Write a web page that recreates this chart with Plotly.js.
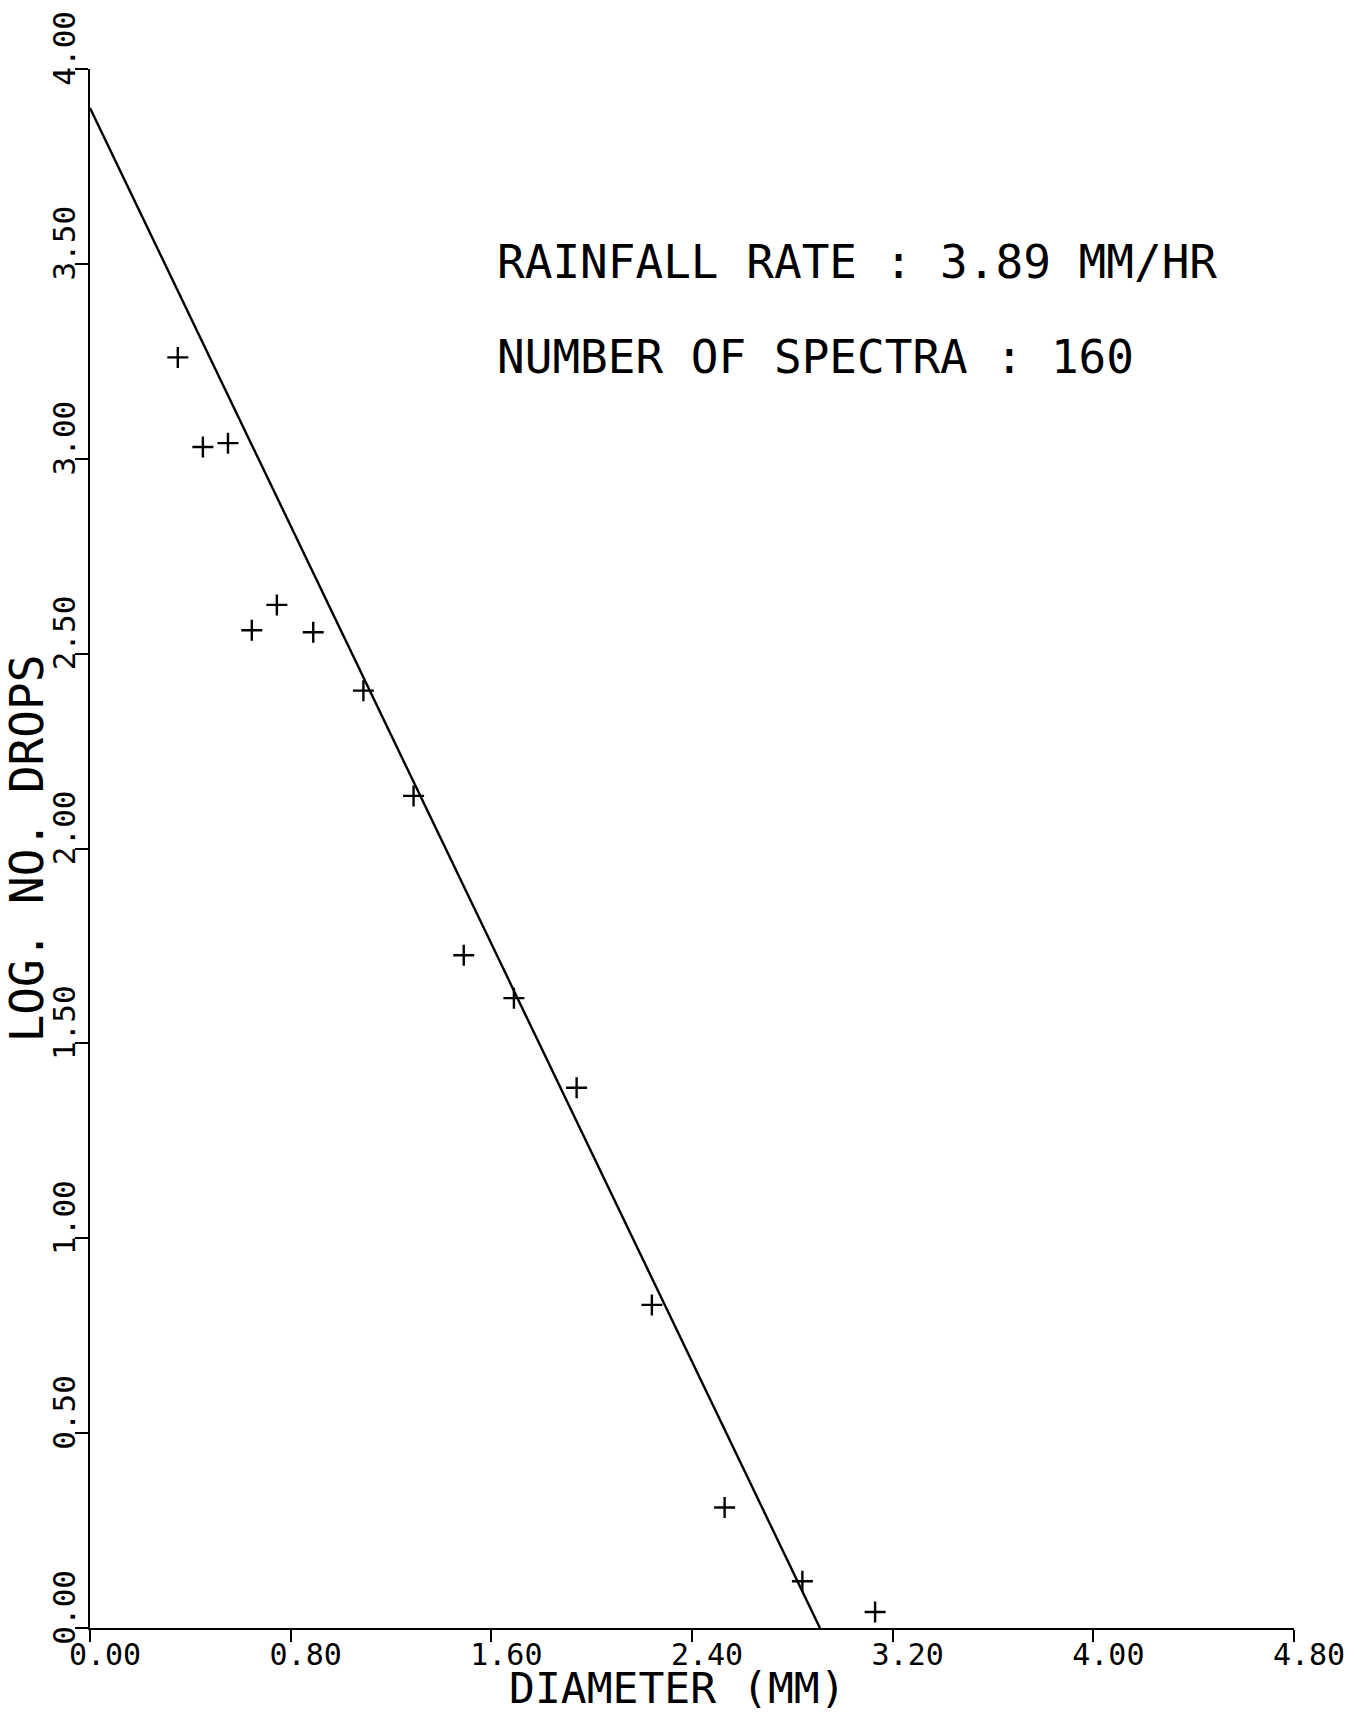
<!DOCTYPE html>
<html>
<head>
<meta charset="utf-8">
<script src="https://cdn.plot.ly/plotly-3.0.1.min.js"></script>
<style>html,body{margin:0;padding:0;background:#fff;}#chart{width:1355px;height:1716px;}</style>
</head>
<body>
<div id="chart"></div>
<script>
// Measured drop spectrum (diameter in mm, log10 of number of drops)
const diameter = [0.35, 0.45, 0.55, 0.645, 0.745, 0.89, 1.09, 1.29, 1.49, 1.69, 1.94, 2.24, 2.53, 2.84, 3.13];
const logDrops = [3.26, 3.03, 3.04, 2.56, 2.625, 2.555, 2.405, 2.135, 1.726, 1.616, 1.386, 0.829, 0.309, 0.12, 0.041];
// Fitted exponential distribution line (end points)
const fitDiameter = [0.0, 2.91];
const fitLogDrops = [3.90, 0.0];
// Axis ticks
const xTicks = [0, 0.8, 1.6, 2.4, 3.2, 4.0, 4.8];
const xTickLabels = ['0.00', '0.80', '1.60', '2.40', '3.20', '4.00', '4.80'];
const yTicks = [0, 0.5, 1.0, 1.5, 2.0, 2.5, 3.0, 3.5, 4.0];
const yTickLabels = ['0.00', '0.50', '1.00', '1.50', '2.00', '2.50', '3.00', '3.50', '4.00'];
// Text
const xTitle = 'DIAMETER (MM)';
const yTitle = 'LOG. NO. DROPS';
const infoLines = ['RAINFALL RATE : 3.89 MM/HR', 'NUMBER OF SPECTRA : 160'];

const FONT = 'DejaVu Sans Mono, monospace';

const traces = [
  {
    x: fitDiameter, y: fitLogDrops, type: 'scatter', mode: 'lines',
    line: {color: '#000', width: 2.4}, hoverinfo: 'skip', showlegend: false
  },
  {
    x: diameter, y: logDrops, type: 'scatter', mode: 'markers',
    marker: {symbol: 'cross-thin-open', size: 15, color: '#000', line: {color: '#000', width: 2.4}},
    showlegend: false
  }
];

const layout = {
  width: 1355, height: 1716,
  paper_bgcolor: '#fff', plot_bgcolor: '#fff',
  margin: {l: 90, r: 61, t: 69, b: 88},
  font: {family: FONT, color: '#000'},
  showlegend: false,
  xaxis: {
    range: [0, 4.8], tickvals: xTicks, ticktext: xTickLabels,
    showgrid: false, zeroline: false, showline: true, linecolor: '#000', linewidth: 2,
    ticks: 'outside', ticklen: 12, tickwidth: 2, tickcolor: '#000',
    tickfont: {family: FONT, size: 30, color: '#000'},
    ticklabelshift: 15,
    ticklabelstandoff: -13,
    fixedrange: true
  },
  yaxis: {
    range: [0, 4], tickvals: yTicks, ticktext: yTickLabels,
    showgrid: false, zeroline: false, showline: true, linecolor: '#000', linewidth: 2,
    ticks: 'outside', ticklen: 13, tickwidth: 2, tickcolor: '#000',
    tickangle: -90,
    tickfont: {family: FONT, size: 31, color: '#000'},
    ticklabelshift: -16,
    ticklabelstandoff: -12,
    title: {text: yTitle, font: {family: FONT, size: 46, color: '#000'}, standoff: 0},
    fixedrange: true
  },
  annotations: [
    {xref: 'paper', yref: 'paper', x: 0.488, y: -0.0557, xanchor: 'center', yanchor: 'bottom',
     text: xTitle, showarrow: false, font: {family: FONT, size: 43, color: '#000'}},
    {xref: 'paper', yref: 'paper', x: 0.3367, y: 0.876, xanchor: 'left', yanchor: 'middle',
     text: infoLines[0], showarrow: false, font: {family: FONT, size: 46, color: '#000'}},
    {xref: 'paper', yref: 'paper', x: 0.3367, y: 0.815, xanchor: 'left', yanchor: 'middle',
     text: infoLines[1], showarrow: false, font: {family: FONT, size: 46, color: '#000'}}
  ]
};

Plotly.newPlot('chart', traces, layout, {displayModeBar: false, staticPlot: true});
</script>
</body>
</html>
